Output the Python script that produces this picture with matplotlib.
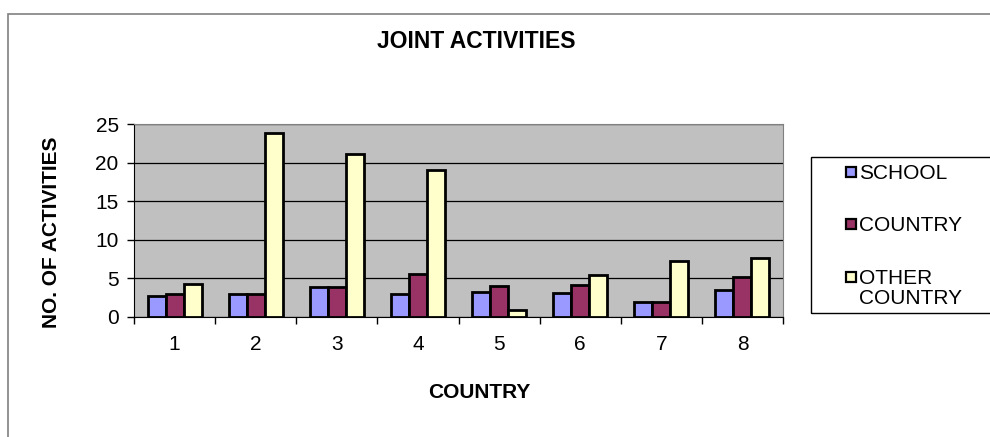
import numpy as np
import matplotlib
matplotlib.use('Agg')
import matplotlib.pyplot as plt
from matplotlib.patches import Rectangle

# joint activities per country
countries = ['1', '2', '3', '4', '5', '6', '7', '8']
series_names = ['SCHOOL', 'COUNTRY', 'OTHER COUNTRY']
school = [2.7, 3.0, 3.9, 3.0, 3.2, 3.1, 1.9, 3.5]
country = [3.0, 3.0, 3.9, 5.6, 4.0, 4.1, 1.9, 5.2]
other_country = [4.3, 23.8, 21.1, 19.0, 0.9, 5.4, 7.2, 7.7]
colors = ['#9999FF', '#993366', '#FFFFCC']

plt.rcParams['font.family'] = ['Liberation Sans', 'DejaVu Sans']

W, H = 990, 437


def fx(px):
    return px / W


def fy(py):
    return 1 - py / H


fig = plt.figure(figsize=(9.9, 4.37), dpi=100)
fig.patch.set_facecolor('white')

# outer chart border (right and bottom edges fall outside the picture)
fig.patches.append(Rectangle((fx(8), -0.2), 2, fy(14) + 0.2, transform=fig.transFigure,
                             fill=False, edgecolor='#808080', lw=1.2))

ax = fig.add_axes([fx(134), fy(317), fx(783) - fx(134), fy(124) - fy(317)])
ax.set_facecolor('#C0C0C0')

x = np.arange(1, len(countries) + 1)
w = 0.222
data = [school, country, other_country]
for i, vals in enumerate(data):
    ax.bar(x + (i - 1) * w, vals, width=w, color=colors[i], edgecolor='black',
           linewidth=2.0, zorder=3)

ax.set_xlim(0.5, len(countries) + 0.5)
ax.set_ylim(0, 25)
ax.set_yticks(np.arange(0, 26, 5))
ax.grid(axis='y', color='black', linewidth=0.9, zorder=1)
ax.set_axisbelow(True)

# category labels in the middle, tick marks between categories
ax.set_xticks(x)
ax.set_xticklabels(countries)
ax.set_xticks(np.arange(0.5, len(countries) + 1, 1), minor=True)
ax.tick_params(axis='x', which='major', length=0, pad=13, labelsize=15)
ax.tick_params(axis='x', which='minor', length=5, width=1, direction='out')
ax.tick_params(axis='y', length=5, width=1, direction='out', pad=6, labelsize=15)

for s in ['top', 'right']:
    ax.spines[s].set_color('#808080')
for s in ['left', 'bottom']:
    ax.spines[s].set_color('black')

fig.text(fx(476), fy(42), 'JOINT ACTIVITIES', ha='center', va='center',
         fontsize=16.5, fontweight='bold')
fig.text(fx(479), fy(393), 'COUNTRY', ha='center', va='center',
         fontsize=15, fontweight='bold')
fig.text(fx(52), fy(232), 'NO. OF ACTIVITIES', ha='center', va='center',
         rotation=90, fontsize=15, fontweight='bold')

# legend drawn by hand to match the boxed layout
fig.patches.append(Rectangle((fx(811), fy(313)), fx(1000) - fx(811), fy(157) - fy(313),
                             transform=fig.transFigure, fill=False,
                             edgecolor='black', lw=1))
rows = [172, 224, 277]
for name, col, ry in zip(series_names, colors, rows):
    fig.patches.append(Rectangle((fx(846), fy(ry + 5)), fx(10), 10 / H,
                                 transform=fig.transFigure, facecolor=col,
                                 edgecolor='black', lw=1.6))
    fig.text(fx(859), fy(ry - 8), name.replace('OTHER ', 'OTHER\n'), ha='left',
             va='top', fontsize=15, linespacing=1.05)

plt.savefig('out.png', dpi=100)
